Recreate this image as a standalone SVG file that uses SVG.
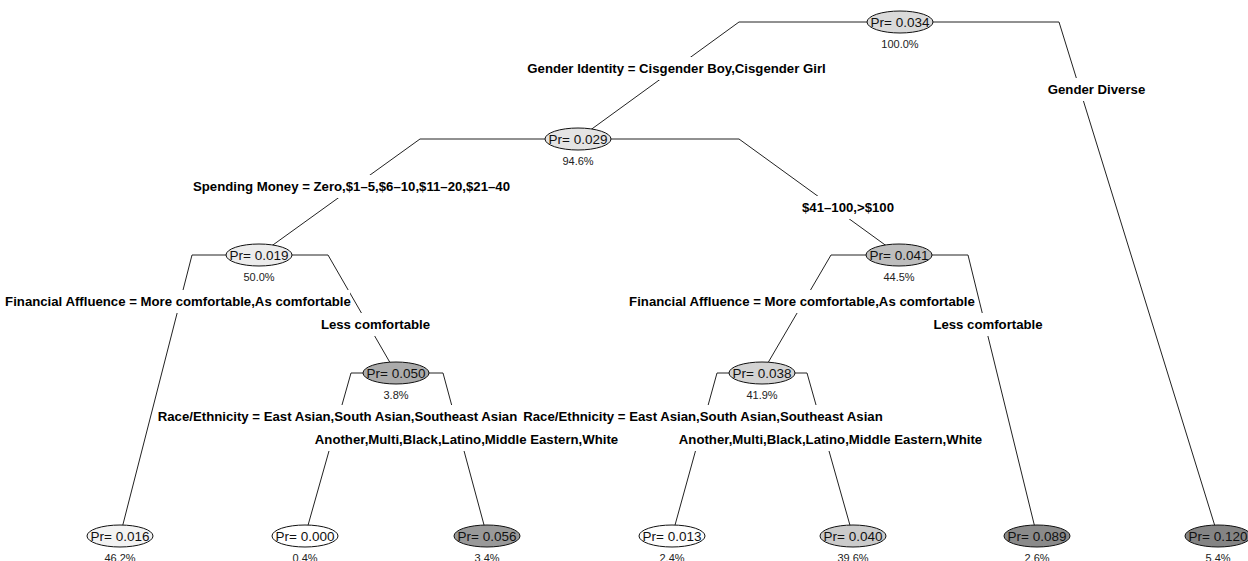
<svg xmlns="http://www.w3.org/2000/svg" width="1248" height="561" viewBox="0 0 1248 561">
<style>
.edge{stroke:#222;stroke-width:1;fill:none}
.nd{stroke:#111;stroke-width:1}
.pr{font-family:"Liberation Sans",Arial,sans-serif;font-size:13.5px;fill:#111;text-anchor:middle}
.pc{font-family:"Liberation Sans",Arial,sans-serif;font-size:11px;fill:#222;text-anchor:middle}
.lb{font-family:"Liberation Sans",Arial,sans-serif;font-size:13.2px;font-weight:bold;fill:#000;text-anchor:middle}
.bg{fill:#fff;stroke:none}
</style>
<rect width="1248" height="561" fill="#fff"/>
<g id="connectors">
<polyline class="edge" points="578,139 739,22 1059,22 1218,536"/>
<polyline class="edge" points="259,255 420,139 739,139 899,255"/>
<polyline class="edge" points="120,536 192,255 328,255 396,373"/>
<polyline class="edge" points="762,373 831,255 968,255 1037,536"/>
<polyline class="edge" points="305,536 351,373 443,373 487,536"/>
<polyline class="edge" points="672,536 717,373 807,373 853,536"/>
</g>
<g id="split-labels">
<g id="lbl-gender-id"><rect class="bg" x="523" y="57" width="307" height="23"/><text class="lb" x="676.5" y="73">Gender Identity = Cisgender Boy,Cisgender Girl</text></g>
<g id="lbl-gender-div"><rect class="bg" x="1031" y="78" width="131" height="23"/><text class="lb" x="1096.5" y="94">Gender Diverse</text></g>
<g id="lbl-spend-lo"><rect class="bg" x="193" y="175" width="317" height="23"/><text class="lb" x="351.5" y="191">Spending Money = Zero,$1–5,$6–10,$11–20,$21–40</text></g>
<g id="lbl-spend-hi"><rect class="bg" x="788" y="196" width="120" height="23"/><text class="lb" x="848" y="212">$41–100,&gt;$100</text></g>
<g id="lbl-fa-left"><rect class="bg" x="6" y="290" width="344" height="23"/><text class="lb" x="178" y="306">Financial Affluence = More comfortable,As comfortable</text></g>
<g id="lbl-less-left"><rect class="bg" x="319" y="313" width="113" height="23"/><text class="lb" x="375.5" y="329">Less comfortable</text></g>
<g id="lbl-fa-right"><rect class="bg" x="630" y="290" width="344" height="23"/><text class="lb" x="802" y="306">Financial Affluence = More comfortable,As comfortable</text></g>
<g id="lbl-less-right"><rect class="bg" x="933" y="313" width="110" height="23"/><text class="lb" x="988" y="329">Less comfortable</text></g>
<g id="lbl-race-left"><rect class="bg" x="158" y="405" width="359" height="23"/><text class="lb" x="337.5" y="421">Race/Ethnicity = East Asian,South Asian,Southeast Asian</text></g>
<g id="lbl-other-left"><rect class="bg" x="318" y="428" width="297" height="23"/><text class="lb" x="466.5" y="444">Another,Multi,Black,Latino,Middle Eastern,White</text></g>
<g id="lbl-race-right"><rect class="bg" x="523" y="405" width="360" height="23"/><text class="lb" x="703" y="421">Race/Ethnicity = East Asian,South Asian,Southeast Asian</text></g>
<g id="lbl-other-right"><rect class="bg" x="680" y="428" width="301" height="23"/><text class="lb" x="830.5" y="444">Another,Multi,Black,Latino,Middle Eastern,White</text></g>
</g>
<g id="n1"><ellipse class="nd" cx="900" cy="22" rx="33" ry="11" fill="#dadada"/><text class="pr" x="900" y="27">Pr= 0.034</text><text class="pc" x="900" y="48">100.0%</text></g>
<g id="n2"><ellipse class="nd" cx="578" cy="139" rx="33" ry="11" fill="#e4e4e4"/><text class="pr" x="578" y="144">Pr= 0.029</text><text class="pc" x="578" y="165">94.6%</text></g>
<g id="n4"><ellipse class="nd" cx="259" cy="255" rx="33" ry="11" fill="#ececec"/><text class="pr" x="259" y="260">Pr= 0.019</text><text class="pc" x="259" y="281">50.0%</text></g>
<g id="n5"><ellipse class="nd" cx="899" cy="255" rx="33" ry="11" fill="#bdbdbd"/><text class="pr" x="899" y="260">Pr= 0.041</text><text class="pc" x="899" y="281">44.5%</text></g>
<g id="n9"><ellipse class="nd" cx="396" cy="373" rx="33" ry="11" fill="#ababab"/><text class="pr" x="396" y="378">Pr= 0.050</text><text class="pc" x="396" y="399">3.8%</text></g>
<g id="n10"><ellipse class="nd" cx="762" cy="373" rx="33" ry="11" fill="#d3d3d3"/><text class="pr" x="762" y="378">Pr= 0.038</text><text class="pc" x="762" y="399">41.9%</text></g>
<g id="leaf1"><ellipse class="nd" cx="120" cy="536" rx="33" ry="11" fill="#f3f3f3"/><text class="pr" x="120" y="541">Pr= 0.016</text><text class="pc" x="120" y="562">46.2%</text></g>
<g id="leaf2"><ellipse class="nd" cx="305" cy="536" rx="33" ry="11" fill="#ffffff"/><text class="pr" x="305" y="541">Pr= 0.000</text><text class="pc" x="305" y="562">0.4%</text></g>
<g id="leaf3"><ellipse class="nd" cx="487" cy="536" rx="33" ry="11" fill="#999999"/><text class="pr" x="487" y="541">Pr= 0.056</text><text class="pc" x="487" y="562">3.4%</text></g>
<g id="leaf4"><ellipse class="nd" cx="672" cy="536" rx="33" ry="11" fill="#fdfdfd"/><text class="pr" x="672" y="541">Pr= 0.013</text><text class="pc" x="672" y="562">2.4%</text></g>
<g id="leaf5"><ellipse class="nd" cx="853" cy="536" rx="33" ry="11" fill="#cbcbcb"/><text class="pr" x="853" y="541">Pr= 0.040</text><text class="pc" x="853" y="562">39.6%</text></g>
<g id="leaf6"><ellipse class="nd" cx="1037" cy="536" rx="33" ry="11" fill="#8a8a8a"/><text class="pr" x="1037" y="541">Pr= 0.089</text><text class="pc" x="1037" y="562">2.6%</text></g>
<g id="leaf7"><ellipse class="nd" cx="1218" cy="536" rx="33" ry="11" fill="#848484"/><text class="pr" x="1218" y="541">Pr= 0.120</text><text class="pc" x="1218" y="562">5.4%</text></g>
</svg>
